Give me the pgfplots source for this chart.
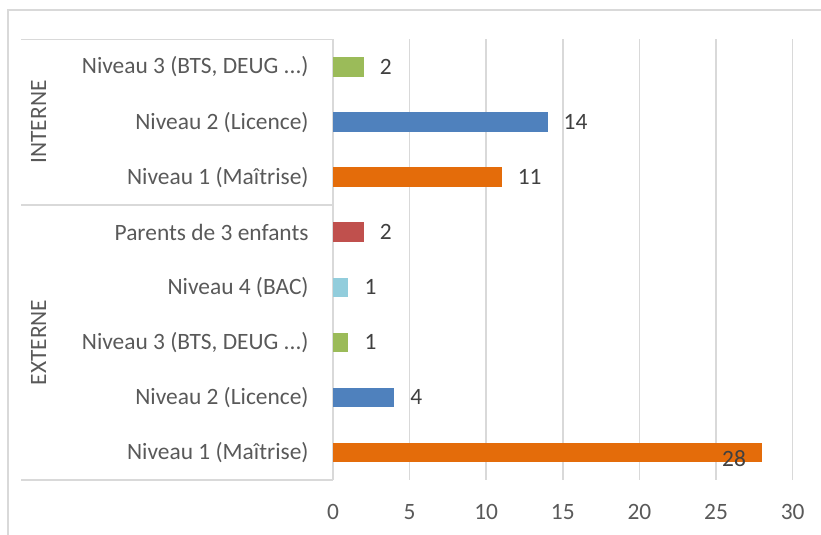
\documentclass[border=0pt]{standalone}
\usepackage{fontspec}
\setmainfont{Carlito}
\usepackage{pgfplots}
\pgfplotsset{compat=1.18}
\definecolor{cOr}{HTML}{E46C0A}
\definecolor{cBl}{HTML}{4F81BD}
\definecolor{cGr}{HTML}{9BBB59}
\definecolor{cLb}{HTML}{92CDDC}
\definecolor{cRd}{HTML}{C0504D}
\definecolor{cGrid}{HTML}{D9D9D9}
\definecolor{cTxt}{HTML}{595959}
\definecolor{cVal}{HTML}{404040}
\newcommand{\ddd}{.{}.{}.}
\begin{document}
\fontsize{23.5}{28}\selectfont
\begin{tikzpicture}[x=1bp,y=1bp]
\path[use as bounding box] (0,0) rectangle (821,535);
\draw[cGrid, line width=1.5bp] (8,0) -- (8,525) -- (821,525);
\begin{axis}[
  at={(333bp,55bp)}, anchor=south west,
  scale only axis, width=459.7bp, height=440.5bp,
  xmin=0, xmax=30, ymin=0.5, ymax=8.5,
  xtick={0,5,...,30}, ytick={1,2,3,4,5,6,7,8},
  yticklabels={{Niveau 1 (Maîtrise)},{Niveau 2 (Licence)},{Niveau 3 (BTS, DEUG \ddd)},{Niveau 4 (BAC)},{Parents de 3 enfants},{Niveau 1 (Maîtrise)},{Niveau 2 (Licence)},{Niveau 3 (BTS, DEUG \ddd)}},
  axis line style={draw=none},
  tick style={draw=none},
  xmajorgrids, ymajorgrids=false,
  major grid style={cGrid, line width=1.5bp},
  /pgf/number format/assume math mode=true,
  ticklabel style={font=\fontsize{23.5}{28}\selectfont, text=cTxt, inner sep=0pt},
  xticklabel style={anchor=north, yshift=-24bp},
  yticklabel style={anchor=east, xshift=-20bp},
  xbar, bar width=19.5bp, bar shift=0pt,
  nodes near coords,
  every node near coord/.append style={anchor=west, inner sep=0pt, xshift=16bp, text=cVal, font=\fontsize{23.5}{28}\selectfont, /pgf/number format/assume math mode=true},
  clip=false,
]
\addplot[draw=none, fill=cOr, every node near coord/.append style={anchor=east, xshift=-32bp, yshift=-6bp}] coordinates {(28,1)};
\addplot[draw=none, fill=cBl] coordinates {(4,2)};
\addplot[draw=none, fill=cGr] coordinates {(1,3)};
\addplot[draw=none, fill=cLb] coordinates {(1,4)};
\addplot[draw=none, fill=cRd] coordinates {(2,5)};
\addplot[draw=none, fill=cOr] coordinates {(11,6)};
\addplot[draw=none, fill=cBl] coordinates {(14,7)};
\addplot[draw=none, fill=cGr] coordinates {(2,8)};
\end{axis}
\draw[cGrid, line width=1.5bp] (21,495.5) -- (333,495.5);
\draw[cGrid, line width=1.5bp] (21,330) -- (333,330);
\draw[cGrid, line width=1.5bp] (21,55) -- (333,55);
\node[rotate=90, text=cTxt, inner sep=0pt] at (38.5,413) {INTERNE};
\node[rotate=90, text=cTxt, inner sep=0pt] at (38.5,192.5) {EXTERNE};
\end{tikzpicture}
\end{document}
